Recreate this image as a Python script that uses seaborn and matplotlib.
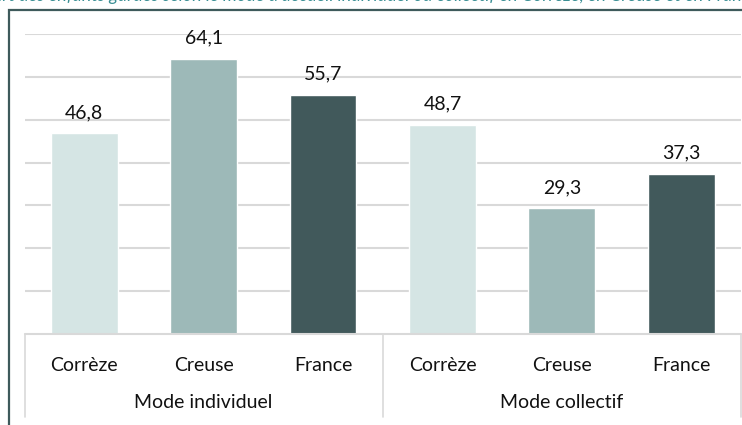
import pandas as pd
import seaborn as sns
import matplotlib.pyplot as plt
from matplotlib.patches import Rectangle
from matplotlib.transforms import blended_transform_factory

# Data
modes = ["Mode individuel", "Mode collectif"]
territoires = ["Corrèze", "Creuse", "France"]
valeurs_individuel = [46.8, 64.1, 55.7]
valeurs_collectif = [48.7, 29.3, 37.3]

couleurs = {"Corrèze": "#D5E5E4", "Creuse": "#9DB9B8", "France": "#41595B"}

rows = []
for mode, vals in zip(modes, [valeurs_individuel, valeurs_collectif]):
    for terr, v in zip(territoires, vals):
        rows.append({"mode": mode, "territoire": terr, "valeur": v,
                     "cle": mode + " - " + terr})
df = pd.DataFrame(rows)

sns.set_style("white")
plt.rcParams['font.family'] = ['Lato', 'DejaVu Sans']

fig = plt.figure(figsize=(7.42, 4.25), dpi=100)
ax = fig.add_axes([24.5 / 742, 1 - 334 / 425, 716.5 / 742, 300 / 425])

sns.barplot(data=df, x="cle", y="valeur", hue="territoire", palette=couleurs,
            dodge=False, width=0.56, legend=False, ax=ax, saturation=1)

ax.set_ylim(0, 70)
ax.set_xlim(-0.5, len(df) - 0.5)
ax.set_yticks(range(10, 71, 10))
ax.yaxis.grid(True, color="#D9D9D9", linewidth=1.5)
ax.set_axisbelow(True)
ax.set_yticklabels([])
ax.tick_params(left=False, bottom=False)
for s in ax.spines.values():
    s.set_visible(False)
ax.set_xlabel("")
ax.set_ylabel("")

# value labels
for cont in ax.containers:
    ax.bar_label(cont, labels=[f"{v:.1f}".replace(".", ",") for v in cont.datavalues],
                 padding=9, fontsize=14, color="#111111")

# multi-level category axis
ax.set_xticks(range(len(df)))
ax.set_xticklabels(df["territoire"], fontsize=14, color="#111111")
ax.tick_params(axis="x", pad=13)

trans = blended_transform_factory(ax.transAxes, ax.transAxes)
low = -83 / 300
ax.plot([0, 1], [0, 0], transform=trans, color="#D9D9D9", lw=1.5, clip_on=False)
for xs in [0, 0.5, 1]:
    ax.plot([xs, xs], [0, low], transform=trans, color="#D9D9D9", lw=1.2, clip_on=False)
for i, mode in enumerate(modes):
    ax.text(0.25 + 0.5 * i, -69 / 300, mode, transform=trans, ha="center", va="center",
            fontsize=14, color="#111111")

# outer frame and clipped title
fig.patches.append(Rectangle((8.5 / 742, -0.1), 1.2, 1 - 9.5 / 425 + 0.1, transform=fig.transFigure,
                             fill=False, edgecolor="#3E5A5B", linewidth=1.6))
fig.text(0.5, 1 - 1 / 425, "Part des enfants gardés selon le mode d'accueil individuel ou collectif en Corrèze, en Creuse et en France",
         ha="center", va="baseline", fontsize=13, style="italic", color="#3A8F94")

fig.savefig("out.png", dpi=100)
